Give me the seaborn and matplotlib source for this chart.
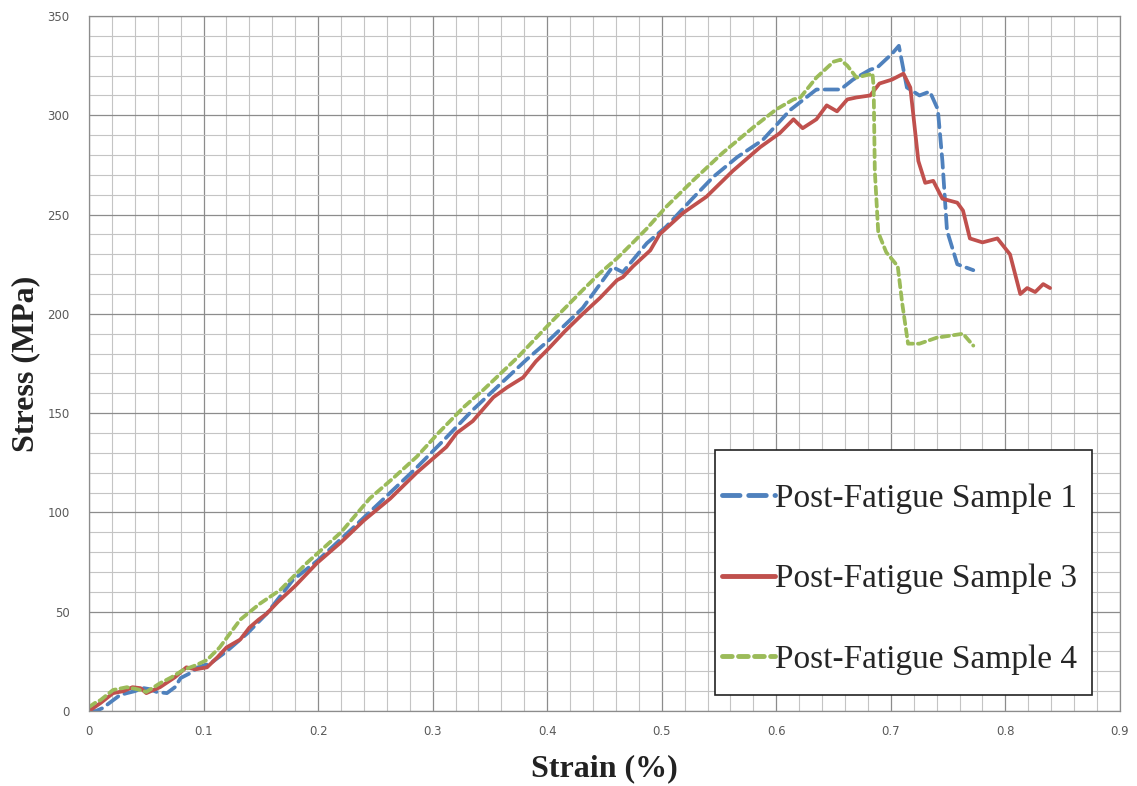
import numpy as np
import pandas as pd
import matplotlib
matplotlib.use("Agg")
import matplotlib.pyplot as plt
from matplotlib.ticker import MultipleLocator
from matplotlib.patches import Rectangle
import seaborn as sns

# Stress-strain readings for the three post-fatigue specimens
s1_strain = [0, 0.006, 0.012, 0.02, 0.027, 0.033, 0.04, 0.047, 0.053, 0.059, 0.068, 0.075,
             0.08, 0.088, 0.095, 0.106, 0.12, 0.138, 0.155, 0.178, 0.2, 0.23, 0.263, 0.285,
             0.309, 0.335, 0.356, 0.382, 0.402, 0.431, 0.457, 0.466, 0.487, 0.504, 0.525,
             0.545, 0.566, 0.588, 0.612, 0.635, 0.656, 0.667, 0.682, 0.688, 0.701, 0.707,
             0.714, 0.725, 0.734, 0.741, 0.745, 0.749, 0.758, 0.772]
s1_stress = [0, 0, 1.5, 5, 8, 9, 10, 11.6, 11, 9.6, 9, 12,
             16.6, 19, 22, 24, 30, 39, 49, 66, 76, 92, 110, 122,
             136, 151.6, 163, 177, 187, 203, 223.6, 221, 235.6, 244, 257,
             269, 279, 287.5, 302.6, 313, 313, 318, 323, 324, 331, 335,
             314, 310, 312, 303, 277, 242, 225, 222]

s3_strain = [0, 0.01, 0.021, 0.03, 0.038, 0.045, 0.05, 0.062, 0.075, 0.085, 0.093, 0.103,
             0.112, 0.12, 0.132, 0.14, 0.148, 0.155, 0.165, 0.18, 0.199, 0.22, 0.24, 0.263,
             0.286, 0.3, 0.312, 0.321, 0.335, 0.353, 0.365, 0.379, 0.39, 0.402, 0.415, 0.431,
             0.446, 0.456, 0.461, 0.466, 0.475, 0.49, 0.498, 0.519, 0.539, 0.562, 0.586,
             0.603, 0.615, 0.623, 0.635, 0.644, 0.653, 0.662, 0.670, 0.682, 0.69, 0.701,
             0.711, 0.717, 0.724, 0.73, 0.737, 0.745, 0.758, 0.763, 0.769, 0.78, 0.793,
             0.804, 0.813, 0.819, 0.826, 0.833, 0.839]
s3_stress = [0, 4, 9, 10, 12, 11.5, 9, 12, 17, 22, 21, 22,
             27, 32, 36, 42, 46, 49, 55, 63, 74.5, 85, 96, 107,
             120, 127, 133, 140, 146, 158, 163, 168, 176, 183, 191, 200,
             208, 214, 217, 218.5, 224, 232, 240, 251, 259, 272, 284,
             291, 298, 293.5, 298, 305, 302, 308, 309, 310, 316, 318,
             321, 314, 277, 266, 267, 258, 256, 252, 238, 236, 238,
             230, 210, 213, 211, 215, 213]

s4_strain = [0, 0.005, 0.01, 0.021, 0.033, 0.042, 0.05, 0.062, 0.072, 0.082, 0.093, 0.103,
             0.114, 0.123, 0.132, 0.149, 0.167, 0.19, 0.22, 0.245, 0.265, 0.286, 0.305,
             0.327, 0.344, 0.374, 0.402, 0.431, 0.446, 0.461, 0.475, 0.487, 0.504, 0.527,
             0.553, 0.58, 0.6, 0.615, 0.621, 0.635, 0.65, 0.656, 0.662, 0.67, 0.684, 0.685,
             0.686, 0.689, 0.696, 0.706, 0.71, 0.715, 0.725, 0.74, 0.763, 0.772]
s4_stress = [2, 4, 5.5, 10.6, 12, 11, 9.6, 14, 17, 20.6, 23, 25.7,
             32, 39, 46, 54, 61, 74.5, 90, 107, 117, 128, 140,
             153, 161.6, 178, 195, 212, 220.5, 228, 236, 243, 254, 267,
             281, 294, 303, 308, 309, 319, 327, 328, 325, 319, 321, 314,
             272, 241, 231, 224, 205, 185, 185, 188, 190, 184]

series_names = ["Post-Fatigue Sample 1", "Post-Fatigue Sample 3", "Post-Fatigue Sample 4"]
x_ticks = [0, 0.1, 0.2, 0.3, 0.4, 0.5, 0.6, 0.7, 0.8, 0.9]
x_tick_labels = ["0", "0.1", "0.2", "0.3", "0.4", "0.5", "0.6", "0.7", "0.8", "0.9"]
y_ticks = [0, 50, 100, 150, 200, 250, 300, 350]

sns.set_theme(style="white")
plt.rcParams["font.family"] = ["DejaVu Sans"]

fig = plt.figure(figsize=(11.37, 7.86), dpi=100)
ax = fig.add_axes([0.0783, 0.0954, 0.985 - 0.0783, 0.9796 - 0.0954])

frames = []
for name, xs, ys in zip(series_names,
                        [s1_strain, s3_strain, s4_strain],
                        [s1_stress, s3_stress, s4_stress]):
    frames.append(pd.DataFrame({"Strain": xs, "Stress": ys, "Sample": name}))
df = pd.concat(frames, ignore_index=True)

palette = {series_names[0]: "#4F81BD", series_names[1]: "#C0504D", series_names[2]: "#9BBB59"}
dash_map = {series_names[0]: (3.6, 1.8), series_names[1]: "", series_names[2]: (2.0, 1.3)}

sns.lineplot(data=df, x="Strain", y="Stress", hue="Sample", style="Sample",
             palette=palette, dashes=dash_map, sort=False, estimator=None,
             linewidth=2.7, ax=ax, legend=True)
for ln in ax.lines:
    ln.set_dash_capstyle("round")
    ln.set_solid_capstyle("round")
    ln.set_solid_joinstyle("round")

ax.set_xlim(0, 0.9)
ax.set_ylim(0, 350)
ax.set_xticks(x_ticks)
ax.set_xticklabels(x_tick_labels)
ax.set_yticks(y_ticks)
ax.xaxis.set_minor_locator(MultipleLocator(0.02))
ax.yaxis.set_minor_locator(MultipleLocator(10))
ax.grid(which="major", color="#8c8c8c", linewidth=0.9)
ax.grid(which="minor", color="#c4c4c4", linewidth=0.8)
ax.set_axisbelow(True)
for sp in ax.spines.values():
    sp.set_color("#8c8c8c")
    sp.set_linewidth(0.9)
ax.tick_params(axis="both", which="both", length=0, labelsize=8.5,
               labelcolor="#595959")
ax.tick_params(axis="x", pad=10)
ax.tick_params(axis="y", pad=14)

ax.set_xlabel("Strain (%)", family="Liberation Serif", fontweight="bold",
              fontsize=23, color="#222222", labelpad=12)
ax.set_ylabel("Stress (MPa)", family="Liberation Serif", fontweight="bold",
              fontsize=23, color="#222222", labelpad=5)

# Legend box drawn as its own patch, entries placed inside it
box = Rectangle((0.607, 0.023), 0.366, 0.353, transform=ax.transAxes,
                facecolor="white", edgecolor="#222222", linewidth=1.2, zorder=4)
ax.add_patch(box)

handles, labels = ax.get_legend_handles_labels()
leg = ax.legend(handles, labels, loc="center left",
                bbox_to_anchor=(0.614, 0.19),
                prop={"family": "Liberation Serif", "size": 24},
                frameon=False, handlelength=1.6, handletextpad=0.0,
                borderpad=0, labelspacing=1.5, borderaxespad=0)
leg.set_zorder(5)
for h in leg.get_lines():
    h.set_linewidth(3.5)

fig.savefig("out.png", dpi=100)
